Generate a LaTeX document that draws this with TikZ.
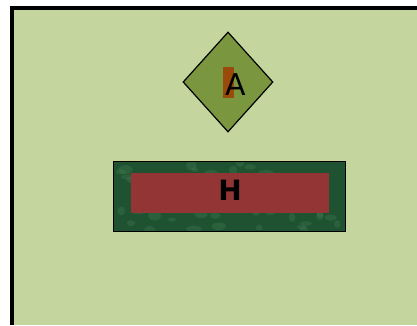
\documentclass[tikz,border=0pt]{standalone}
\usepackage{fontspec}
\setmainfont{DejaVu Sans}
\usetikzlibrary{shapes.geometric}
\definecolor{FieldGreen}{HTML}{C5D59E}
\definecolor{DiamondGreen}{HTML}{7A963E}
\definecolor{MarkerOrange}{HTML}{9A4A0A}
\definecolor{PlateGreen}{HTML}{1F5230}
\definecolor{PlateMottle}{HTML}{4E8A5E}
\definecolor{PlateRed}{HTML}{943535}

\begin{document}
\begin{tikzpicture}[x=1pt,y=-1pt]
  \useasboundingbox (0,0) rectangle (417,325);
  % field with frame
  \fill[FieldGreen] (12,8) rectangle (417,325);
  \draw[line width=4pt] (12,325) -- (12,8) -- (417,8);

  % diamond marker
  \node[
    diamond,
    draw=black,
    fill=DiamondGreen,
    line width=1.2pt,
    minimum width=90pt,
    minimum height=100pt,
    inner sep=0pt
  ] (diamA) at (228,82) {};
  \node[fill=MarkerOrange, minimum width=11pt, minimum height=31pt, inner sep=0pt] (tagA) at (228.5,82.5) {};
  \node[inner sep=0pt, font=\fontsize{30}{30}\selectfont] (labelA) at (236,84.5) {A};

  % plate, mottled
  \node[
    fill=PlateGreen,
    minimum width=231pt,
    minimum height=69pt,
    inner sep=0pt
  ] (plateH) at (229.5,196.5) {};
  \begin{scope}
    \clip (plateH.north west) rectangle (plateH.south east);
    \pgfmathsetseed{7}
    \foreach \i in {1,...,60}{
      \fill[PlateMottle, opacity=0.25]
        ({114+231*rnd},{162+69*rnd}) ellipse ({3+5*rnd} and {2+3*rnd});
    }
  \end{scope}
  \draw[line width=1pt] (plateH.north west) rectangle (plateH.south east);
  \node[
    fill=PlateRed,
    minimum width=198pt,
    minimum height=40pt,
    inner sep=0pt
  ] (bandH) at (230,193) {};
  \node[inner sep=0pt, font=\fontsize{28}{28}\selectfont\bfseries] (labelH) at (230,190) {H};
\end{tikzpicture}
\end{document}
